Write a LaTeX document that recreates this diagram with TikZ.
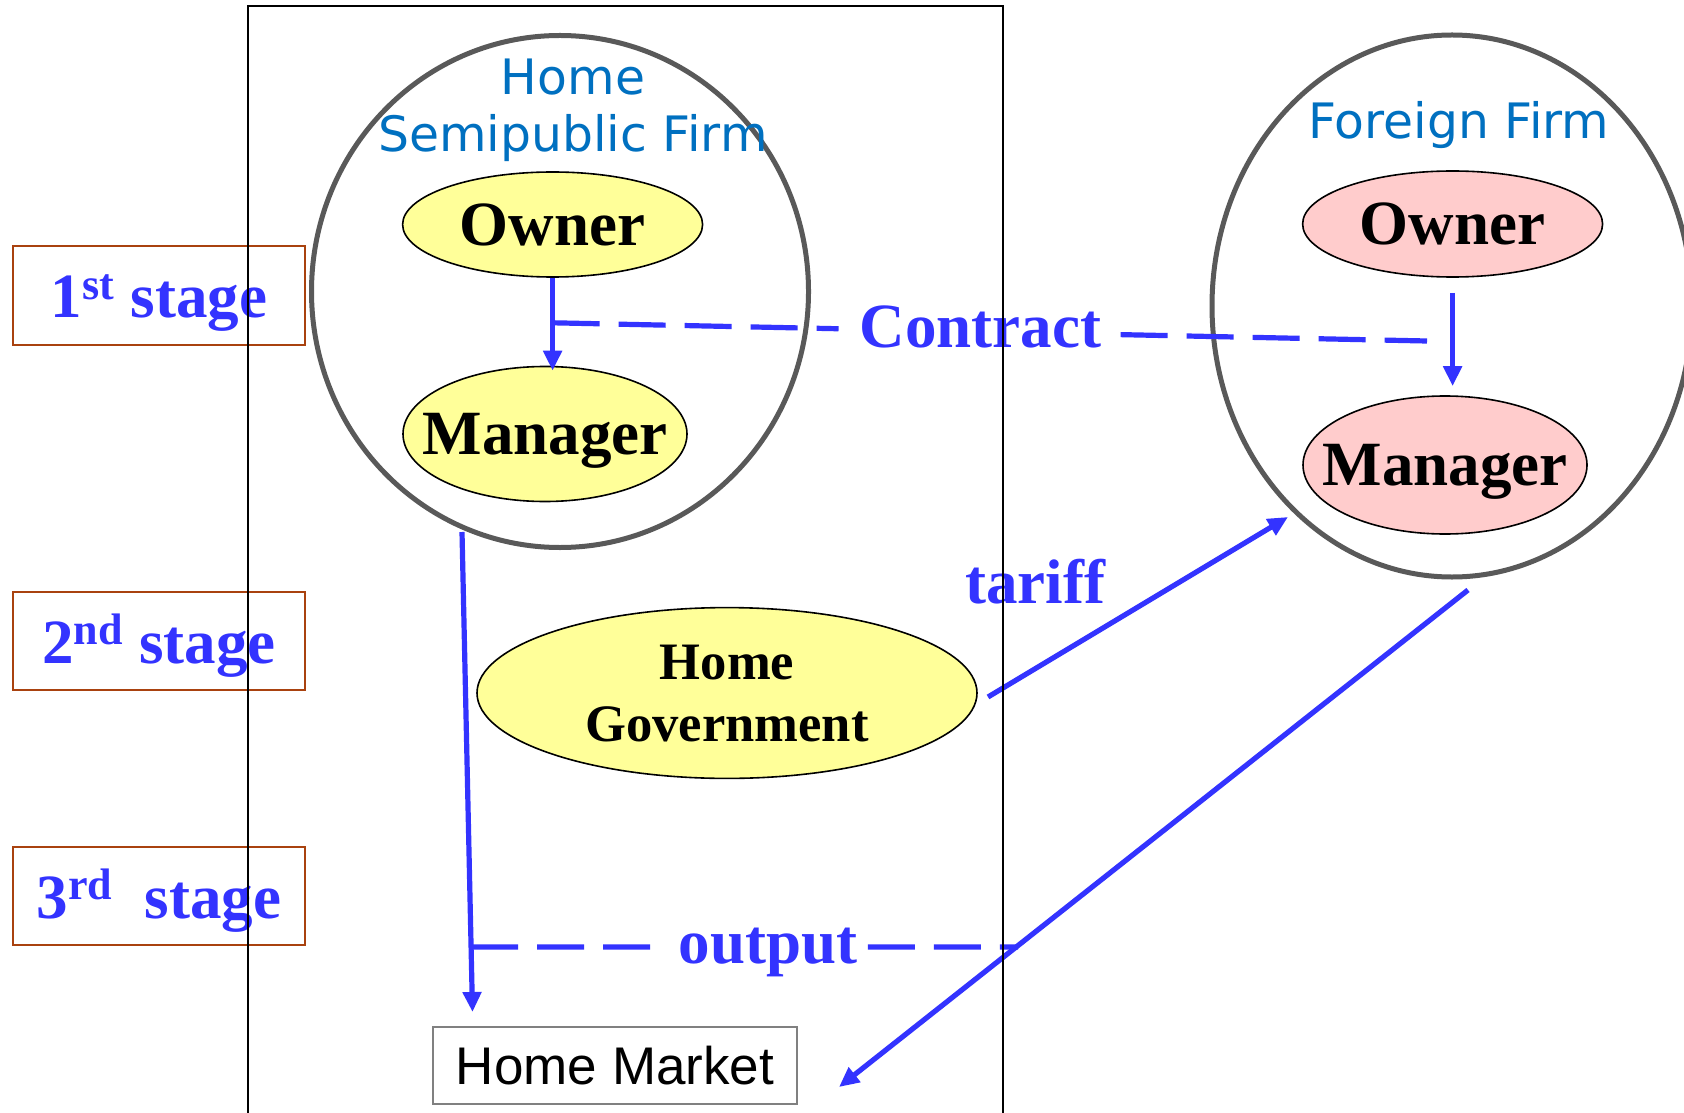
\documentclass[tikz,border=0pt]{standalone}
\usepackage{fontspec}
\setmainfont{Liberation Serif}
\newfontfamily\verdfont{DejaVu Sans}
\newfontfamily\arialfont{Liberation Sans}
\usetikzlibrary{shapes.geometric,arrows.meta,calc}
\definecolor{lineblue}{HTML}{3333FF}
\definecolor{firmblue}{HTML}{0070C0}
\definecolor{circgray}{HTML}{595959}
\definecolor{stagebrown}{HTML}{A9420F}
\definecolor{yelfill}{HTML}{FFFF99}
\definecolor{pinkfill}{HTML}{FFCCCC}
\definecolor{mkgray}{HTML}{808080}
\begin{document}
\begin{tikzpicture}[x=0.5pt,y=-0.5pt,
  blueline/.style={draw=lineblue, line width=2.6pt},
  arr/.style={blueline, -{Triangle[length=10pt,width=9pt]}},
  dashline/.style={blueline, dash pattern=on 23.5pt off 9.5pt},
  firm/.style={ellipse, draw=circgray, line width=2.5pt, inner sep=0pt},
  role/.style={ellipse, draw=black, line width=0.8pt, inner sep=0pt,
    font=\fontsize{31.5}{36}\selectfont\bfseries, text depth=0pt},
  stagebox/.style={draw=stagebrown, line width=1pt, minimum width=146pt,
    minimum height=49pt, inner sep=0pt, text height=22.5pt, text depth=0pt,
    text=lineblue, font=\fontsize{31.5}{36}\selectfont\bfseries},
  firmlabel/.style={text=firmblue, font=\verdfont\fontsize{24.4}{28.5}\selectfont,
    align=center, inner sep=0pt},
  bluetext/.style={text=lineblue, font=\fontsize{31.5}{36}\selectfont\bfseries, inner sep=0pt}
]
\clip (0,0) rectangle (1684,1112);
\fill[white] (0,0) rectangle (1684,1112);

% firm circles
\node[firm, minimum width=248.5pt, minimum height=256pt] (hc) at (560,291.5) {};
\node[firm, minimum width=240pt, minimum height=271pt] (fc) at (1452,306) {};

% firm labels
\node[firmlabel] (hl) at (573,110) {Home\\Semipublic Firm};
\node[firmlabel, anchor=base] (fl) at (1459,139) {Foreign Firm};

% roles
\node[role, fill=yelfill, minimum width=150pt, minimum height=52.5pt] (ho) at (552.6,224.5) {\makebox[0pt]{Owner}};
\node[role, fill=yelfill, minimum width=142pt, minimum height=67.5pt] (hm) at (545,434) {\makebox[0pt]{Manager}};
\node[role, fill=pinkfill, minimum width=150pt, minimum height=53pt] (fo) at (1452.6,224) {\makebox[0pt]{Owner}};
\node[role, fill=pinkfill, minimum width=142pt, minimum height=69pt] (fm) at (1445,465) {\makebox[0pt]{Manager}};
\node[role, fill=yelfill, minimum width=250pt, minimum height=85.4pt,
  font=\fontsize{26.3}{31}\selectfont\bfseries, align=center] (gov) at (727,693) {Home\\Government};

% home market
\node[draw=mkgray, line width=1pt, minimum width=182pt, minimum height=38.5pt, inner sep=0pt,
  text depth=0pt, font=\arialfont\fontsize{26.5}{30}\selectfont] (mk) at (615,1065.5) {Home Market};

% stage boxes
\node[stagebox] (s1) at (159,295.5) {1\textsuperscript{st} stage};
\node[stagebox] (s2) at (159,640.5) {2\textsuperscript{nd} stage};
\node[stagebox] (s3) at (159,895.5) {3\textsuperscript{rd}\ \ stage};

% owner -> manager (home)
\draw[arr] (ho.south) -- ($(ho.south |- hm.north)+(0,5)$);
% contract
\coordinate (ct) at ($(ho.south)+(0,45)$);
\coordinate (ce) at (1427,341);
\draw[dashline] (ct) -- ($(ct)!0.327!(ce)$);
\draw[dashline] ($(ct)!0.6496!(ce)$) -- (ce);
\node[bluetext, anchor=base] (contract) at (980.5,348) {Contract};

% owner -> manager (foreign)
\coordinate (fa) at ($(fo.south)+(0,15)$);
\coordinate (fb) at ($(fo.south |- fm.north)+(0,-9)$);
\draw[arr] (fa) -- (fb);

% manager -> market
\coordinate (m1) at (462,532);
\coordinate (m2) at (472.5,1012);
\draw[arr] (m1) -- (m2);

% output
\coordinate (o1) at ($(m1)!0.8646!(m2)$);
\coordinate (o2) at (1018,947);
\draw[dashline] (o1) -- ($(o1)!0.332!(o2)$);
\draw[dashline] ($(o1)!0.7257!(o2)$) -- (o2);
\node[bluetext, anchor=base] (output) at (768,963) {output};

% tariff
\coordinate (t1) at (988,697);
\coordinate (t2) at (1288,517);
\draw[arr] (t1) -- (t2);
\node[bluetext, anchor=base] (tariff) at (1035,603) {tariff};

% foreign -> market
\coordinate (d1) at (1468,590);
\coordinate (d2) at (839,1087);
\draw[arr] (d1) -- (d2);

% home country frame
\draw[line width=1pt] (247.5,1130) -- (247.5,6) -- (1003,6) -- (1003,1130);
\end{tikzpicture}
\end{document}
